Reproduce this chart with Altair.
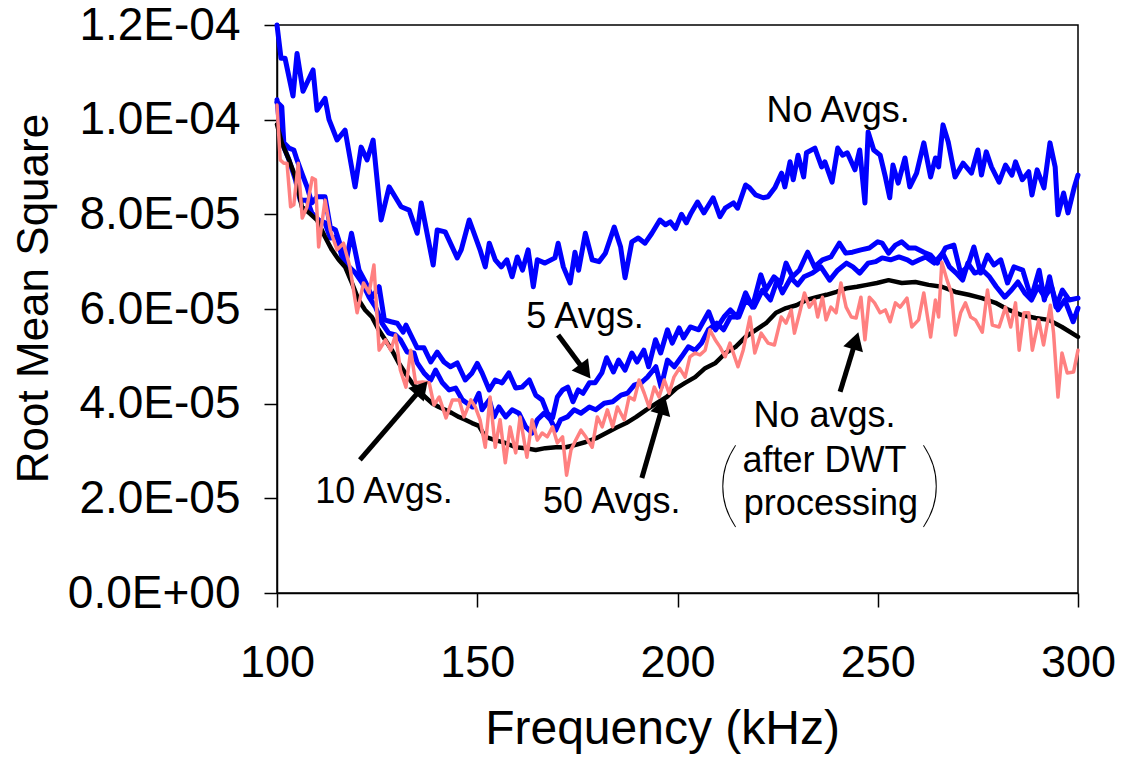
import json
import altair as alt
import pandas as pd

# ---- data (RMS values in units of 1E-05) ----
no_avg_khz = [100,101,102,104,105,106.5,109,110,112,113,115,117,119.5,121,122.5,124,126,128,131,133,135,136,139,140,142,145,146,148,150.7,152,153,154.5,156,157.4,158.7,160,161.3,162.7,164,165,166.9,169.4,170.2,171.5,173.2,174.4,175.3,177,178.7,180.4,182,184.2,185.8,186.9,188.6,190.2,191.9,193.6,195.6,197,198.2,199.5,201,202.2,203.4,205,206.6,208.9,210.6,211.9,214,215,217,218,219.5,221.4,222.6,224.3,226,226.8,228.1,228.9,230.1,231.5,232.2,234.3,236,236.8,238.6,240,241.2,242.4,244.3,245.5,246.8,247.6,249,250.6,251.9,253,253.8,255.1,256.8,258,259.7,261.5,263.2,264.4,265.2,266.3,267.6,269.3,271.3,273.4,275,275.9,277.1,278.4,280.3,281.9,283.5,284.4,286.1,287.7,288.5,289.8,291.5,293,294.3,295,296.4,297.5,299.1,300]
no_avg_rms = [12.0,11.3,11.3,10.5,11.4,10.6,11.05,10.2,10.45,10.0,9.57,9.78,8.58,9.42,9.15,9.57,7.88,8.58,8.16,8.09,7.6,8.24,6.93,7.67,7.63,7.08,7.25,7.88,7.25,6.89,7.39,7.04,6.89,7.04,6.68,7.1,6.82,7.25,6.47,7.04,6.97,7.08,7.39,6.89,6.55,7.2,6.82,7.6,7.04,7.0,7.18,7.73,7.31,6.66,7.42,7.5,7.39,7.6,7.88,7.78,7.84,7.7,8.0,7.82,8.03,8.26,8.03,8.35,7.95,8.13,8.24,8.13,8.62,8.56,8.41,8.35,8.37,8.56,8.87,8.58,9.11,8.73,9.25,8.79,9.3,9.4,9.0,9.11,8.68,9.4,9.25,9.3,8.94,9.36,8.24,9.74,9.36,9.25,8.79,8.35,9.04,8.66,9.19,8.58,8.87,9.51,8.79,9.19,9.0,9.89,9.53,8.79,9.08,8.87,9.36,8.83,9.32,9.0,8.68,9.04,8.83,9.11,8.73,8.9,8.41,8.94,8.56,9.51,9.0,7.99,8.45,8.03,8.58,8.83]

avg5_khz = [100,101.2,101.7,103,104.2,105,106.2,107.5,108.7,110,112,113.3,114.6,116.2,117.5,118.6,120.5,122.2,123.8,125.5,126.8,128.5,130,131.5,132.2,134,135,136.7,138.4,140,141.7,143.3,145,147,148.7,150,151.2,153,154.5,156.2,157.9,159.6,161.2,163,164.6,166.2,167.5,168.8,170,171.3,172.6,173.9,175.2,176.4,178,179.4,181.1,182.3,184,185.3,186.9,188.6,189.9,191.6,192.8,194.5,195.8,197.5,198.7,200.4,201.5,203.2,205.3,207.8,209.5,211.6,213.2,214.9,217,218.7,220.8,222.1,224.1,225.8,227.1,228.7,230.4,232.5,234.2,236.2,238.3,240.4,242,243.7,245.8,247.9,250,251.1,252.7,254.4,256,257.7,259.4,261.5,263.2,264.9,266.9,269,270.7,272.4,274,275.7,277.4,279,280.7,282.4,284,286.2,288.3,290.3,291.6,292.9,294.5,296.1,297.8,300]
avg5_rms = [10.37,10.27,9.51,9.4,9.36,9.15,8.87,8.58,8.24,8.37,8.37,7.73,7.67,7.25,7.1,7.6,6.82,6.55,6.25,6.47,5.77,5.73,5.7,5.51,5.66,5.35,5.18,5.18,4.88,5.09,4.88,4.78,4.86,4.5,4.65,4.85,4.65,4.29,4.5,4.44,4.65,4.33,4.35,4.5,4.18,4.08,3.8,3.7,4.14,4.29,4.35,4.04,4.29,4.22,4.44,4.44,4.65,4.97,4.67,4.92,4.71,5.07,4.88,5.13,4.78,5.35,5.07,5.56,5.28,5.6,5.39,5.62,5.56,5.94,5.56,5.83,5.98,5.83,6.34,6.04,6.72,6.4,6.68,6.55,6.97,6.68,6.82,7.2,6.89,7.04,7.1,7.39,7.18,7.2,7.25,7.29,7.42,7.39,7.18,7.35,7.42,7.29,7.29,7.2,7.14,6.97,7.29,7.35,6.76,6.89,7.31,6.76,7.14,6.93,7.04,6.55,6.89,6.82,6.23,6.82,6.19,6.68,6.04,6.4,6.19,6.23]

avg10_khz = [100,100.8,101.7,103,104.6,105.8,107.5,108.7,110.4,112,113.3,115,116.2,118,119.6,121.3,123,124.6,126.2,127.9,129.6,130.8,132.5,134.2,135,136.7,138.4,139.6,141.3,143,144.6,146.3,148.8,150.4,151.2,153,154.2,155.4,157.1,158.7,160.4,162.1,163.7,165,166.7,168.3,169.6,170.8,172.5,174.2,175.9,178,179.6,181.7,183.8,185.9,187.5,189.2,190.9,192.5,194.6,195.9,197.5,199.2,201,202.7,204.4,206,207.7,209.8,211.5,213.2,215.3,217,219.1,221.2,223.2,224.9,226.2,228.3,230,231.6,233.7,235.8,238,240,242.2,243.8,245.5,247.6,249.5,251.1,253.2,255.3,257.4,258.7,260.4,262,264.1,266.2,267.9,269.6,271.2,272.5,274.2,276.2,277.9,279.6,281.7,283.4,285,286.7,288.4,290,291.7,293.4,295,296.7,298.8,300]
avg10_rms = [10.42,9.72,9.42,9.15,8.73,8.3,8.3,8.03,7.88,7.82,7.5,7.52,7.1,6.89,6.76,6.55,6.25,6.04,5.7,5.49,5.45,5.35,5.09,5.07,4.86,4.65,4.5,4.71,4.44,4.29,4.33,4.08,3.93,4.22,3.87,4.08,3.72,3.93,3.72,3.87,3.8,3.51,3.38,3.66,3.8,3.66,3.44,3.66,3.72,3.87,3.8,3.93,3.87,4.01,4.04,4.18,4.22,4.39,4.44,4.56,4.78,4.35,4.92,4.78,4.99,5.2,5.13,5.28,5.56,5.7,5.56,5.83,5.83,6.19,6.04,6.4,6.19,6.61,6.34,6.66,6.51,6.68,6.76,6.89,6.61,6.82,6.97,6.89,6.76,6.97,7.0,7.08,7.04,7.1,7.04,6.97,7.04,7.1,6.97,7.18,6.89,6.76,6.61,6.97,6.76,6.82,6.68,6.47,6.25,6.4,6.57,6.34,6.19,6.47,6.25,6.47,5.98,6.19,5.73,6.02]

avg50_khz = [100,101.2,103,104.6,106.2,108,110,112,113.7,115.4,117,118.7,120.4,122,123.7,125.4,127,128.7,130.4,132,133.7,135.4,137,138.7,140.4,142,143.7,145.4,147,148.7,150.4,152,154.5,157,159.6,162,164.6,167,169.6,172.1,174.6,177.1,179.7,182.2,184.7,187.2,189.7,192.2,194.8,197.3,199.8,201.9,204.4,206.9,209.5,212,214.5,217,219.6,222.1,224.6,227.1,229.7,232.2,234.7,237.2,239.7,242.3,244.8,247.3,249.8,252.7,256,259.4,262.7,266,269.4,272.7,276,279.4,282.7,286,289.4,292.7,296,300]
avg50_rms = [9.9,9.51,9.15,8.79,8.16,8.03,7.88,7.52,7.25,7.04,6.89,6.55,6.19,5.98,5.83,5.56,5.35,5.13,4.86,4.65,4.44,4.29,4.14,4.01,3.93,3.87,3.8,3.72,3.66,3.59,3.53,3.3,3.23,3.17,3.08,3.06,3.02,3.06,3.08,3.08,3.13,3.19,3.27,3.38,3.49,3.59,3.72,3.87,4.01,4.14,4.33,4.44,4.56,4.75,4.86,5.07,5.2,5.41,5.56,5.7,5.92,6.02,6.08,6.19,6.25,6.3,6.36,6.44,6.47,6.51,6.55,6.61,6.55,6.57,6.51,6.47,6.36,6.3,6.23,6.13,5.98,5.87,5.81,5.77,5.62,5.41]

dwt_khz = [100,100.8,101.7,102.5,103.4,104.2,105.3,106.3,107.5,108.8,109.6,110.4,112,113.3,115,116.6,118.2,120,121.6,123,124.2,125.5,127.1,128.4,129.6,130.8,132.2,133.4,134.6,136.3,138,139.2,140.5,142.2,143.8,145.5,146.7,148.4,149.5,150.7,152,153.2,154.5,155.7,157,158.2,159.6,160.7,162.4,163.7,165,166.2,167.5,168.8,170,171.3,172.3,173.4,174.6,175.9,177.1,178.7,180,181.2,182.5,183.8,185,186.7,187.9,189.2,190.4,191.7,192.9,194.2,195.4,196.7,197.9,199.1,200.5,201.9,203.1,204.4,205.6,206.9,208.1,209.4,210.6,211.9,213.1,215.1,216.4,218.1,219.3,220.9,222.6,224.2,225.9,227.1,228.4,229.2,230.5,231.7,232.9,234.2,235,236.2,237.1,238.3,239.6,240.8,242.1,243.4,244.6,245.8,246.8,247.9,249.2,250.6,251.9,253.1,254.4,255.6,257.3,258.5,260.2,261.5,263.2,264.4,265.2,266,267.3,268.4,269.4,270.7,271.9,273.2,274.4,276.1,277.4,278.6,280.3,281.9,283.2,284.4,285.3,286.5,287.7,288.6,290.2,291.4,293.1,293.9,295,296,297.3,298.9,300]
dwt_rms = [10.31,9.15,9.08,9.08,8.16,8.2,9.08,7.92,8.16,8.77,8.73,7.31,8.3,7.67,7.25,7.39,6.89,5.92,6.55,6.34,6.93,5.13,5.35,5.13,5.45,4.71,4.35,5.13,4.44,4.46,4.44,3.97,4.14,3.7,4.08,4.08,3.72,4.08,3.93,3.66,3.08,4.14,3.08,3.66,2.75,3.51,2.96,3.72,2.87,3.66,3.23,3.38,3.3,3.51,3.17,3.3,2.49,3.02,3.23,3.44,3.3,3.08,3.72,3.51,3.87,3.51,3.93,3.66,4.14,4.08,4.5,4.22,3.93,4.35,4.14,4.5,4.22,4.56,4.75,4.56,4.99,5.07,5.03,5.13,5.56,5.35,5.2,4.99,5.28,4.78,5.13,5.83,5.07,5.49,5.28,5.24,5.83,5.7,5.98,5.49,5.92,6.34,6.04,6.19,5.83,6.25,5.77,6.04,5.92,6.55,6.04,5.83,5.81,6.25,5.35,6.25,6.13,5.92,5.98,5.73,6.13,6.04,6.23,5.62,5.77,6.34,5.41,6.19,5.83,6.99,6.61,6.34,5.45,5.92,6.13,5.83,5.77,5.51,6.4,5.66,5.62,6.04,5.62,6.13,5.13,5.92,5.92,5.13,5.77,5.24,6.08,5.49,4.14,5.07,4.65,4.67,5.13]

x_ticks = [100, 150, 200, 250, 300]
y_ticks = [0, 2, 4, 6, 8, 10, 12]
y_tick_labels = ["0.0E+00", "2.0E-05", "4.0E-05", "6.0E-05", "8.0E-05", "1.0E-04", "1.2E-04"]

# annotation labels
label_text = ["No Avgs.", "5 Avgs.", "10 Avgs.", "50 Avgs.", "No avgs.", "after DWT", "processing"]
label_khz = [240.1, 176.9, 126.7, 183.6, 236.7, 236.7, 238.3]
label_rms = [9.95, 5.6, 1.9, 1.69, 3.51, 2.56, 1.65]

paren_text = ["(", ")"]
paren_khz = [212.6, 263.3]
paren_rms = [2.22, 2.22]

arrow_tail_khz = [170.2, 120.7, 191.1, 240.6]
arrow_tail_rms = [5.45, 2.81, 2.43, 4.25]
arrow_head_khz = [176.95, 136.15, 196.33, 244.5]
arrow_head_rms = [4.68, 4.33, 3.96, 5.33]
arrow_angle = [143, 41, 16, 17]

NARROW = "Liberation Sans Narrow, Arial Narrow, Liberation Sans, Arial"
REG = "Liberation Sans, Arial"

xs = alt.Scale(domain=[100, 300], nice=False, zero=False)
ys = alt.Scale(domain=[0, 12], nice=False, zero=False)

label_expr = json.dumps(y_tick_labels) + "[round(datum.value / 2)]"

x_axis = alt.Axis(values=x_ticks, title="Frequency (kHz)", grid=False,
                  labelFont=NARROW, labelFontSize=45, labelPadding=33,
                  labelColor="black", tickSize=14, tickColor="black", tickWidth=1.5,
                  domainColor="black", domainWidth=1.5, labelFlush=False,
                  titleFont=NARROW, titleFontSize=48, titleFontWeight="normal",
                  titleColor="black", titleX=385, titleY=150, titleBaseline="alphabetic",
                  titleAlign="center")
y_axis = alt.Axis(values=y_ticks, title="Root Mean Square", grid=False,
                  labelExpr=label_expr, labelFont=REG, labelFontSize=46,
                  labelPadding=24, labelColor="black", tickSize=13, tickColor="black",
                  tickWidth=1.5, domainColor="black", domainWidth=1.5, labelFlush=False,
                  titleFont=NARROW, titleFontSize=44, titleFontWeight="normal",
                  titleColor="black", titleAngle=270, titleX=-230, titleY=273,
                  titleBaseline="alphabetic", titleAlign="center")

X = alt.X("khz:Q", scale=xs, axis=x_axis)
Y = alt.Y("rms:Q", scale=ys, axis=y_axis)


def series(khz, rms, color, width):
    df = pd.DataFrame({"khz": khz, "rms": rms})
    return alt.Chart(df).mark_line(color=color, strokeWidth=width,
                                   strokeJoin="round", strokeCap="round").encode(x=X, y=Y)


lines = [
    series(no_avg_khz, no_avg_rms, "#0000FF", 5),
    series(avg5_khz, avg5_rms, "#0000FF", 5),
    series(avg10_khz, avg10_rms, "#0000FF", 5),
    series(avg50_khz, avg50_rms, "#000000", 4.5),
    series(dwt_khz, dwt_rms, "#FF8080", 3.5),
]

labels = alt.Chart(pd.DataFrame({"khz": label_khz, "rms": label_rms, "t": label_text})).mark_text(
    font=REG, fontSize=36, color="black", align="center", baseline="alphabetic"
).encode(x=X, y=Y, text="t:N")

parens = alt.Chart(pd.DataFrame({"khz": paren_khz, "rms": paren_rms, "t": paren_text})).mark_text(
    font="Lato", fontWeight=100, fontSize=94, color="black", align="center", baseline="middle"
).encode(x=X, y=Y, text="t:N")

arrows_df = pd.DataFrame({"khz": arrow_tail_khz, "rms": arrow_tail_rms,
                          "khz2": arrow_head_khz, "rms2": arrow_head_rms})
shafts = alt.Chart(arrows_df).mark_rule(color="black", strokeWidth=5).encode(
    x=X, y=Y, x2="khz2:Q", y2="rms2:Q")

heads_df = pd.DataFrame({"khz": arrow_head_khz, "rms": arrow_head_rms, "ang": arrow_angle})
heads = alt.Chart(heads_df).mark_point(shape="triangle-up", filled=True, color="black",
                                       size=420, opacity=1).encode(
    x=X, y=Y, angle=alt.Angle("ang:Q", scale=None))

chart = alt.layer(*lines, shafts, heads, labels, parens).properties(
    width=801, height=568,
    padding={"left": 277, "top": 25, "right": 46, "bottom": 165},
    autosize=alt.AutoSizeParams(type="none"),
    background="white",
).configure_view(stroke="black", strokeWidth=1.5)

chart.save("out.html", embed_options={"renderer": "svg", "actions": False})
